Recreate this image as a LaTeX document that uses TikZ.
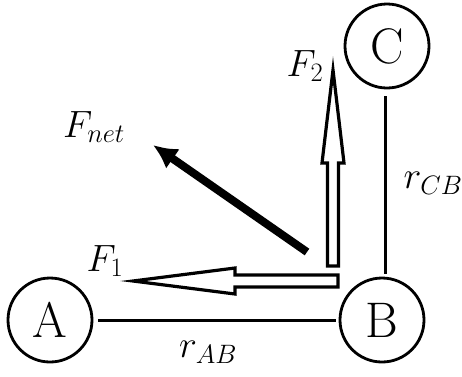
\documentclass[tikz,border=0pt]{standalone}
\usepackage{fix-cm}
\usepackage{tikz}
\usetikzlibrary{arrows.meta,positioning}

\begin{document}
\begin{tikzpicture}[x=1pt, y=-1pt,
    charge/.style={circle, draw, line width=2.8pt, minimum size=84pt, inner sep=0pt,
                   font=\fontsize{50}{60}\selectfont},
    sep/.style={line width=3pt},
    blockarrow/.style={draw, line width=3.2pt, line join=miter, miter limit=20, fill=white},
    netarrow/.style={line width=8pt, -{Latex[length=24pt, width=24pt]}},
    lbl/.style={font=\fontsize{38}{44}\selectfont, inner sep=0pt}]
  \useasboundingbox (0,0) rectangle (462,376);

  % --- charges ---
  \node[charge] (A) at (50,320) {A};
  \node[charge] (B) at (382,320) {B};
  \node[charge] (C) at (387,46) {C};

  % --- separations ---
  \draw[sep, shorten <=5pt, shorten >=3pt] (A) -- (B);
  \draw[sep, shorten <=7pt, shorten >=3pt] (C.south -| 385,0) -- (B.north -| 385,0);
  \node[lbl] (rAB) at (208,352) {$r_{AB}$};
  \node[lbl] (rCB) at (433,183) {$r_{CB}$};

  % --- F1 (towards A) ---
  \draw[blockarrow] (338,275) -- (235,275) -- (235,268) -- (133,281)
    -- (235,294) -- (235,287) -- (338,287) -- cycle;
  \node[lbl] (F1) at (105,261) {$F_1$};

  % --- F2 (away from C) ---
  \draw[blockarrow] (327.5,266) -- (327.5,163) -- (322,163) -- (333,70)
    -- (344,163) -- (338.5,163) -- (338.5,266) -- cycle;
  \node[lbl] (F2) at (305,66) {$F_2$};

  % --- net force ---
  \coordinate (netTail) at (307,252);
  \coordinate (netTip) at (153,145);
  \draw[netarrow] (netTail) -- (netTip);
  \node[lbl] (Fnet) at (94,127) {$F_{net}$};
\end{tikzpicture}
\end{document}
